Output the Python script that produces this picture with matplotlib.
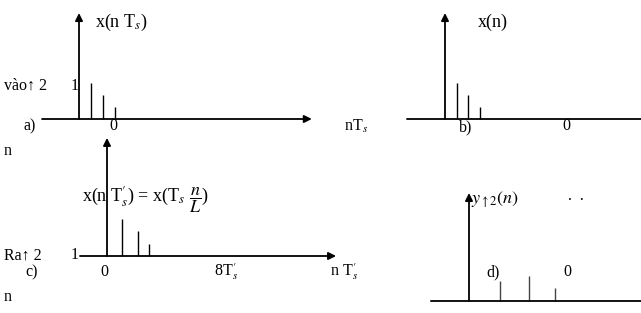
"""Tín hiệu trước và sau khi tăng tần số lấy mẫu ↑2 (hình scan)."""

import matplotlib
matplotlib.use("Agg")
import matplotlib.pyplot as plt
from matplotlib.transforms import Affine2D

plt.rcParams["font.family"] = ["Liberation Serif", "DejaVu Serif"]
plt.rcParams["mathtext.fontset"] = "stix"

# mẫu của từng hình (chỉ số mẫu, biên độ)
A_N = [1, 2, 3]
A_VAL = [3, 2, 1]
B_N = [1, 2, 3]
B_VAL = [3, 2, 1]
C_N = [1.0, 2.05, 2.8]
C_VAL = [3, 2, 1]
D_N = [1.03, 2.0, 2.87]
D_VAL = [2.0, 2.5, 1.3]

fig = plt.figure(figsize=(6.41, 3.13), dpi=100)
ax = fig.add_axes([0, 0, 1, 1])
ax.set_xlim(0, 641)
ax.set_ylim(313, 0)
ax.axis("off")


def panel(x0, y0, dx, dy):
    # gốc toạ độ của hình con trên ảnh, tính theo pixel
    return Affine2D().scale(dx, -dy).translate(x0, y0) + ax.transData


def axis_line(tr, start, end, arrow=True, lw=1.3):
    style = "-|>" if arrow else "-"
    ax.annotate("", xy=end, xytext=start, xycoords=tr, textcoords=tr,
                arrowprops=dict(arrowstyle=style, color="black", lw=lw,
                                mutation_scale=11, shrinkA=0, shrinkB=0))


def stems(tr, ns, vals, lw=1.0, color="black"):
    ax.vlines(ns, 0, vals, colors=color, lw=lw, transform=tr)


# a)
ta = panel(79, 119, 12, 12)
axis_line(ta, (0, 0), (0, 8.83))
axis_line(ta, (-3.08, 0), (19.4, 0))
stems(ta, A_N, A_VAL)

# b)
tb = panel(445, 119, 11.7, 12)
axis_line(tb, (0, 0), (0, 8.83))
axis_line(tb, (-3.25, 0), (16.8, 0), arrow=False)
stems(tb, B_N, B_VAL)

# c)
tc = panel(107, 256, 15.1, 12.3)
axis_line(tc, (0, 0), (0, 9.6))
axis_line(tc, (-1.79, 0), (15.17, 0))
stems(tc, C_N, C_VAL)

# d)
td = panel(469, 301, 30, 10)
axis_line(td, (0, 0), (0, 10.8))
axis_line(td, (-1.27, 0), (5.75, 0), arrow=False)
stems(td, D_N, D_VAL, color="#444444")

small = 11.5
big = 13
txt = dict(va="center", ha="left", color="black")

ax.text(95, 22, r"x(n T$_{s}$)", fontsize=big, **txt)
ax.text(4, 86, "vào↑ 2", fontsize=small, **txt)
ax.text(71, 86, "1", fontsize=small, **txt)
ax.text(24, 126, "a)", fontsize=small, **txt)
ax.text(109, 126, "0", fontsize=small, **txt)
ax.text(344, 126, r"nT$_{s}$", fontsize=small, **txt)
ax.text(4, 151, "n", fontsize=small, **txt)

ax.text(478, 22, "x(n)", fontsize=big, **txt)
ax.text(459, 127, "b)", fontsize=small, **txt)
ax.text(562, 126, "0", fontsize=small, **txt)

ax.text(82, 200, r"x(n T$^{\prime}_{s}$) = x(T$_{s}$ $\dfrac{n}{L}$)", fontsize=13, **txt)
ax.text(4, 256, "Ra↑ 2", fontsize=small, **txt)
ax.text(71, 255, "1", fontsize=small, **txt)
ax.text(25, 272, "c)", fontsize=small, **txt)
ax.text(100, 272, "0", fontsize=small, **txt)
ax.text(214, 272, r"8T$^{\prime}_{s}$", fontsize=small, **txt)
ax.text(330, 272, r"n T$^{\prime}_{s}$", fontsize=small, **txt)
ax.text(4, 297, "n", fontsize=small, **txt)

ax.text(471, 200, r"$y_{\uparrow 2}(n)$", fontsize=big, **txt)
ax.text(486, 272, "d)", fontsize=small, **txt)
ax.text(563, 272, "0", fontsize=small, **txt)
ax.text(568, 196, ".  .", fontsize=small, **txt)

fig.savefig("out.png", dpi=100)
